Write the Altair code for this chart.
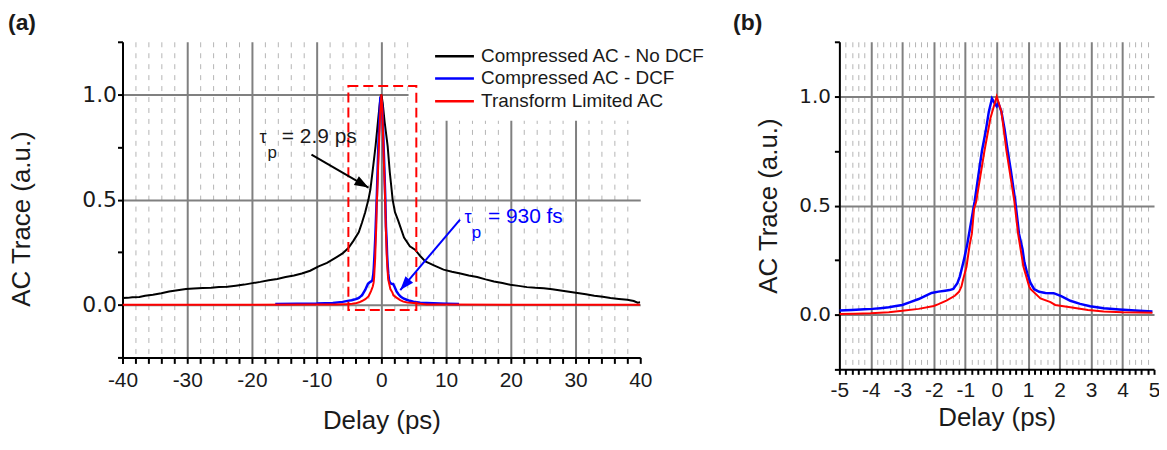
import math
import altair as alt
import pandas as pd

FONT = "Liberation Sans"
TXT = "#1a1a1a"

series_names = ["Compressed AC - No DCF", "Compressed AC - DCF", "Transform Limited AC"]
series_colors = ["#000000", "#0000ff", "#ff0000"]

# ---- Compressed AC - No DCF (panel a) ----
black_x = [-40.0, -39.2, -38.5, -37.4, -36.5, -35.3, -34.0, -32.8, -31.5, -30.2, -29.0, -27.6,
           -26.3, -25.1, -23.8, -22.5, -21.2, -19.9, -18.7, -17.4, -16.1, -14.8, -13.5, -12.3,
           -11.0, -9.7, -8.4, -7.1, -6.0, -5.1, -4.3, -3.5, -3.0, -2.5, -2.0, -1.7, -1.3, -0.9,
           -0.5, -0.2, 0.0, 0.2, 0.5, 0.97, 1.3, 1.58, 1.74, 2.1, 2.6, 3.5, 4.4, 5.2, 6.0, 6.8,
           8.2, 9.6, 10.9, 12.2, 13.5, 14.8, 16.1, 17.4, 18.7, 19.9, 21.2, 22.5, 23.8, 25.1,
           26.4, 27.7, 29.0, 30.3, 31.6, 32.9, 34.2, 35.4, 36.7, 38.0, 39.0, 39.6, 40.0]
black_y = [0.032, 0.033, 0.036, 0.037, 0.043, 0.048, 0.055, 0.063, 0.069, 0.075, 0.077, 0.080,
           0.081, 0.085, 0.086, 0.091, 0.096, 0.103, 0.109, 0.117, 0.123, 0.132, 0.139, 0.149,
           0.162, 0.183, 0.199, 0.223, 0.244, 0.270, 0.305, 0.345, 0.390, 0.440, 0.500, 0.548,
           0.650, 0.754, 0.880, 0.970, 1.000, 0.960, 0.870, 0.754, 0.630, 0.548, 0.500, 0.440,
           0.400, 0.320, 0.278, 0.262, 0.232, 0.206, 0.186, 0.167, 0.157, 0.149, 0.139, 0.132,
           0.121, 0.111, 0.104, 0.095, 0.090, 0.084, 0.081, 0.079, 0.074, 0.068, 0.062, 0.056,
           0.050, 0.043, 0.038, 0.032, 0.028, 0.024, 0.018, 0.010, 0.012]

# ---- Compressed AC - DCF (core, -5..5 ps) ----
blue_x = [-5.0, -4.6, -4.2, -3.95, -3.7, -3.43, -3.2, -3.0, -2.75, -2.48, -2.25, -2.07, -1.85,
          -1.64, -1.5, -1.38, -1.25, -1.17, -1.07, -1.02, -0.94, -0.86, -0.70, -0.58, -0.47,
          -0.35, -0.25, -0.15, -0.05, 0.0, 0.05, 0.15, 0.25, 0.35, 0.45, 0.59, 0.71, 0.82,
          0.88, 0.97, 1.07, 1.19, 1.35, 1.55, 1.81, 2.05, 2.34, 2.65, 2.97, 3.4, 3.9, 4.4, 4.95]
blue_y = [0.020, 0.022, 0.025, 0.027, 0.030, 0.034, 0.040, 0.045, 0.058, 0.072, 0.088, 0.100,
          0.106, 0.110, 0.113, 0.118, 0.145, 0.176, 0.235, 0.266, 0.320, 0.386, 0.520, 0.640,
          0.750, 0.840, 0.930, 0.990, 0.965, 0.955, 0.970, 0.930, 0.850, 0.750, 0.660, 0.520,
          0.370, 0.300, 0.240, 0.190, 0.147, 0.117, 0.105, 0.100, 0.099, 0.085, 0.064, 0.050,
          0.039, 0.030, 0.024, 0.019, 0.015]
blue_tail_left_x = [-16.4, -13.0, -10.0, -7.5, -6.0]
blue_tail_left_y = [0.004, 0.005, 0.006, 0.009, 0.014]
blue_tail_right_x = [6.0, 8.0, 10.0, 12.0]
blue_tail_right_y = [0.010, 0.007, 0.005, 0.004]

# ---- Transform Limited AC (core, -5..5 ps) ----
red_x = [-5.0, -4.5, -4.0, -3.43, -3.0, -2.48, -2.0, -1.85, -1.6, -1.33, -1.2, -1.12, -1.07,
         -0.96, -0.86, -0.79, -0.72, -0.65, -0.39, -0.2, 0.0, 0.15, 0.31, 0.56, 0.59, 0.68,
         0.85, 1.03, 1.08, 1.39, 1.71, 1.86, 2.34, 2.9, 3.4, 4.0, 4.5, 4.95]
red_y = [0.004, 0.005, 0.007, 0.012, 0.018, 0.027, 0.040, 0.049, 0.065, 0.087, 0.105, 0.130,
         0.160, 0.220, 0.320, 0.370, 0.483, 0.520, 0.750, 0.900, 1.000, 0.930, 0.750, 0.520,
         0.483, 0.370, 0.220, 0.130, 0.117, 0.075, 0.058, 0.045, 0.034, 0.022, 0.015, 0.011,
         0.010, 0.009]
red_tail_left_x = [-40.0, -20.0, -10.0, -7.0]
red_tail_left_y = [0.0, 0.0, 0.001, 0.002]
red_tail_right_x = [7.0, 10.0, 20.0, 40.0]
red_tail_right_y = [0.002, 0.001, 0.0, 0.0]

# ---- ticks ----
xl_ticks = list(range(-40, 41, 2))
xr_ticks = [round(-5 + 0.2 * i, 1) for i in range(51)]
y_ticks = [-0.25, 0.0, 0.25, 0.5, 0.75, 1.0, 1.25]

# ---- annotations / boxes (data coordinates) ----
zoom_box = {"x": [-5.1], "x2": [5.4], "y": [-0.025], "y2": [1.04]}
legend_bg = {"x": [4.2], "x2": [40.0], "y": [0.875], "y2": [1.25]}
legend_y = [1.181, 1.076, 0.967]
legend_line_x = [8.3, 14.3]
legend_text_x = 15.4
arrow_a_x, arrow_a_y = [-10.8, -2.0], [0.714, 0.557]
arrow_b_x, arrow_b_y = [12.15, 2.92], [0.405, 0.07]
ann_a = {"tau": (-18.3, 0.771), "p": (-16.85, 0.70), "txt": (-15.38, 0.771), "label": "= 2.9 ps"}
ann_b = {"tau": (13.38, 0.39), "p": (14.69, 0.319), "txt": (16.46, 0.39), "label": "= 930 fs"}

LW, LH = 520, 317
RW, RH = 316, 329

color_scale = alt.Scale(domain=series_names, range=series_colors)


def frame(xs, ys, name):
    return pd.DataFrame({"x": xs, "y": ys, "series": name, "i": list(range(len(xs)))})


def y_axis(label_font, label_size, label_pad, title_pad, title_y=None):
    kw = dict(
        values=y_ticks,
        labelExpr="(datum.value === 0 || datum.value === 0.5 || datum.value === 1) ? format(datum.value, '.1f') : ''",
        grid=True, gridColor="#808080", gridWidth=2,
        gridOpacity={"condition": {"test": "datum.value === 0 || datum.value === 0.5 || datum.value === 1", "value": 1}, "value": 0},
        domainColor="black", domainWidth=2, tickColor="black", tickWidth=2, tickSize=5,
        labelFont=label_font, labelFontSize=label_size, labelPadding=label_pad, labelColor=TXT,
        title="AC Trace (a.u.)", titleFont=FONT, titleFontSize=26, titleFontWeight="normal",
        titleColor=TXT, titlePadding=title_pad,
    )
    if title_y is not None:
        kw["titleY"] = title_y
    return alt.Axis(**kw)


major_l = "datum.value % 10 === 0"
x_axis_left = alt.Axis(
    values=xl_ticks,
    labelExpr=f"{major_l} ? ('' + datum.value) : ''",
    grid=True,
    gridColor={"condition": {"test": major_l, "value": "#808080"}, "value": "#b4b4b4"},
    gridDash={"condition": {"test": major_l, "value": []}, "value": [5, 6]},
    gridWidth={"condition": {"test": major_l, "value": 2}, "value": 1},
    gridOpacity={"condition": {"test": "abs(datum.value) >= 40", "value": 0}, "value": 1},
    domainColor="black", domainWidth=2, tickColor="black", tickWidth=2, tickSize=6,
    labelFont=FONT, labelFontSize=21, labelPadding=6, labelColor=TXT, labelOverlap=False,
    labelFlush=False,
    title="Delay (ps)", titleFont=FONT, titleFontSize=26, titleFontWeight="normal",
    titleColor=TXT, titlePadding=17,
)
major_r = "abs(datum.value - round(datum.value)) < 0.001"
x_axis_right = alt.Axis(
    values=xr_ticks,
    labelExpr=f"{major_r} ? ('' + round(datum.value)) : ''",
    grid=True,
    gridColor={"condition": {"test": major_r, "value": "#808080"}, "value": "#b4b4b4"},
    gridDash={"condition": {"test": major_r, "value": []}, "value": [5, 6]},
    gridWidth={"condition": {"test": major_r, "value": 2}, "value": 1},
    gridOpacity={"condition": {"test": "abs(datum.value) >= 4.99", "value": 0}, "value": 1},
    domainColor="black", domainWidth=2, tickColor="black", tickWidth=2, tickSize=5,
    labelFont=FONT, labelFontSize=21, labelPadding=5, labelColor=TXT, labelOverlap=False,
    labelFlush=False,
    title="Delay (ps)", titleFont=FONT, titleFontSize=26, titleFontWeight="normal",
    titleColor=TXT, titlePadding=4,
)
y_axis_left = y_axis("DejaVu Sans", 22, 1, 47, title_y=LH / 2 + 19)
y_axis_right = y_axis("DejaVu Sans", 20, 4, 17)

xs_l = alt.Scale(domain=[-40, 40], nice=False, zero=False)
xs_r = alt.Scale(domain=[-5, 5], nice=False, zero=False)
ys = alt.Scale(domain=[-0.25, 1.25], nice=False, zero=False)


def XL(f="x"):
    return alt.X(f"{f}:Q", scale=xs_l, axis=x_axis_left)


def YL(f="y"):
    return alt.Y(f"{f}:Q", scale=ys, axis=y_axis_left)


def XR(f="x"):
    return alt.X(f"{f}:Q", scale=xs_r, axis=x_axis_right)


def YR(f="y"):
    return alt.Y(f"{f}:Q", scale=ys, axis=y_axis_right)


def line_layer(df, X, Y, width):
    return alt.Chart(df).mark_line(strokeWidth=width, clip=True).encode(
        x=X(), y=Y(), color=alt.Color("series:N", scale=color_scale, legend=None),
        order=alt.Order("i:Q"))


def angle_of(xs, ys_, ax, ay):
    dx = (xs[1] - xs[0]) * ax
    dy = -(ys_[1] - ys_[0]) * ay
    return math.degrees(math.atan2(dy, dx)) % 360


ARROW = "M0,0 L-2,-0.72 L-2,0.72 Z"

# ---------------- panel (a) ----------------
df_black = frame(black_x, black_y, series_names[0])
df_blue_l = frame(blue_tail_left_x + blue_x + blue_tail_right_x,
                  blue_tail_left_y + blue_y + blue_tail_right_y, series_names[1])
df_red_l = frame(red_tail_left_x + red_x + red_tail_right_x,
                 red_tail_left_y + red_y + red_tail_right_y, series_names[2])

bg = alt.Chart(pd.DataFrame(legend_bg)).mark_rect(color="white").encode(
    x=XL(), x2="x2:Q", y=YL(), y2="y2:Q")
box = alt.Chart(pd.DataFrame(zoom_box)).mark_rect(
    fill="transparent", stroke="#ff0000", strokeWidth=2, strokeDash=[10, 5]).encode(
    x=XL(), x2="x2:Q", y=YL(), y2="y2:Q")

axl, ayl = LW / 80.0, LH / 1.5


def arrow_layers(xs, ys_, color, X, Y, ax, ay):
    shaft = alt.Chart(pd.DataFrame({"x": xs, "y": ys_})).mark_line(
        color=color, strokeWidth=2).encode(x=X(), y=Y())
    head = alt.Chart(pd.DataFrame({"x": [xs[1]], "y": [ys_[1]]})).mark_point(
        shape=ARROW, filled=True, color=color, opacity=1, size=196,
        angle=angle_of(xs, ys_, ax, ay)).encode(x=X(), y=Y())
    return [shaft, head]


def ann_layers(a, color, X, Y):
    out = []
    tx, ty = a["tau"]
    out.append(alt.Chart(pd.DataFrame({"x": [tx], "y": [ty], "t": ["\u03c4"]})).mark_text(
        font=FONT, fontSize=18, color=color, align="center", baseline="alphabetic").encode(
        x=X(), y=Y(), text="t:N"))
    px, py = a["p"]
    out.append(alt.Chart(pd.DataFrame({"x": [px], "y": [py], "t": ["p"]})).mark_text(
        font=FONT, fontSize=17, color=color, align="center", baseline="alphabetic").encode(
        x=X(), y=Y(), text="t:N"))
    lx, ly = a["txt"]
    out.append(alt.Chart(pd.DataFrame({"x": [lx], "y": [ly], "t": [a["label"]]})).mark_text(
        font=FONT, fontSize=21, color=color, align="left", baseline="alphabetic").encode(
        x=X(), y=Y(), text="t:N"))
    return out


leg_df = pd.DataFrame({"x": [legend_line_x[0]] * 3, "x2": [legend_line_x[1]] * 3,
                       "tx": [legend_text_x] * 3, "y": legend_y, "series": series_names})
leg_lines = alt.Chart(leg_df).mark_rule(strokeWidth=2.5).encode(
    x=XL(), x2="x2:Q", y=YL(),
    color=alt.Color("series:N", scale=color_scale, legend=None))
leg_text = alt.Chart(leg_df).mark_text(
    font=FONT, fontSize=19, color=TXT, align="left", baseline="middle").encode(
    x=XL("tx"), y=YL(), text="series:N")

left = alt.layer(
    bg,
    line_layer(df_black, XL, YL, 2),
    line_layer(df_blue_l, XL, YL, 2.5),
    line_layer(df_red_l, XL, YL, 2),
    box,
    *arrow_layers(arrow_a_x, arrow_a_y, "#000000", XL, YL, axl, ayl),
    *arrow_layers(arrow_b_x, arrow_b_y, "#0000ff", XL, YL, axl, ayl),
    *ann_layers(ann_a, TXT, XL, YL),
    *ann_layers(ann_b, "#0000ff", XL, YL),
    leg_lines,
    leg_text,
).properties(
    width=LW, height=LH,
    title=alt.TitleParams("(a)", anchor="start", frame="bounds", font=FONT, fontSize=23,
                          fontWeight="bold", color=TXT, offset=6, dx=-1),
)

# ---------------- panel (b) ----------------
df_blue_r = frame(blue_x, blue_y, series_names[1])
df_red_r = frame(red_x, red_y, series_names[2])

right = alt.layer(
    line_layer(df_blue_r, XR, YR, 2.5),
    line_layer(df_red_r, XR, YR, 2),
).properties(
    width=RW, height=RH,
    title=alt.TitleParams("(b)", anchor="start", frame="bounds", font=FONT, fontSize=23,
                          fontWeight="bold", color=TXT, offset=6, dx=-23),
)

chart = alt.hconcat(left, right, spacing=28).configure_view(stroke=None).properties(
    padding={"left": 0, "top": 3, "right": -1, "bottom": 3})

chart.save("out.html", embed_options={"renderer": "svg", "actions": False})
